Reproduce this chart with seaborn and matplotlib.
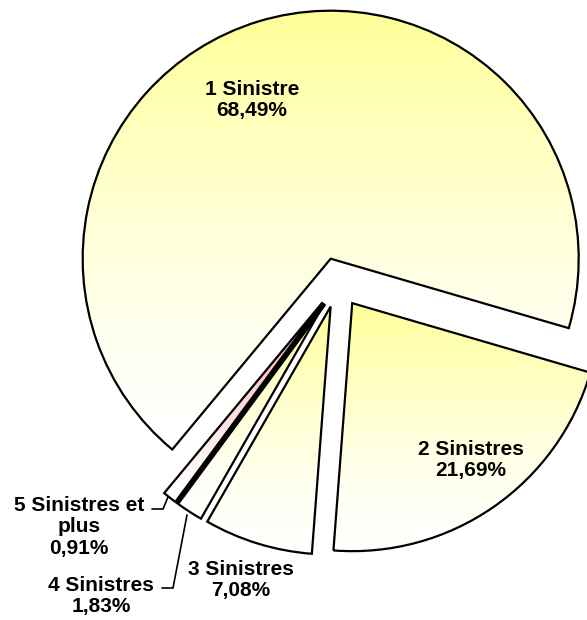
import numpy as np
import matplotlib
matplotlib.use("Agg")
import matplotlib.pyplot as plt
from matplotlib.colors import LinearSegmentedColormap
import seaborn as sns

# ---- data ----
categories = ["1 Sinistre", "2 Sinistres", "3 Sinistres", "4 Sinistres", "5 Sinistres et\nplus"]
shares = [68.49, 21.69, 7.08, 1.83, 0.91]
share_labels = ["68,49%", "21,69%", "7,08%", "1,83%", "0,91%"]

sns.set_theme(style="white")
plt.rcParams['font.family'] = ['Liberation Sans', 'DejaVu Sans']

W, H = 587, 620
fig = plt.figure(figsize=(W / 100, H / 100), dpi=100)
ax = fig.add_axes([0, 0, 1, 1])

center = (338, H - 282.6)
radius = 248
top_colors = ["#FFFF99", "#FFFF99", "#FFFF99", "#FFFF99", "#FF9999"]

wedges, _ = ax.pie(shares, startangle=230.3, counterclock=False,
                   explode=[25] * len(shares), center=center, radius=radius,
                   wedgeprops=dict(facecolor="none", edgecolor="black", linewidth=1.6),
                   frame=True)
ax.set_aspect("auto")
ax.axis("off")

grad = (np.linspace(0, 1, 256) ** 1.4).reshape(-1, 1)
for w, col in zip(wedges, top_colors):
    w.set_zorder(3)
    bb = w.get_path().get_extents()
    cmap = LinearSegmentedColormap.from_list("g", ["#FFFFFF", col])
    im = ax.imshow(grad, cmap=cmap, origin="lower", aspect="auto",
                   extent=(bb.x0, bb.x1, bb.y0, bb.y1), interpolation="bilinear", zorder=2)
    im.set_clip_path(w)

# thick boundary line between slice 4 and slice 5
w4 = wedges[3]
th = np.deg2rad(w4.theta1)
cx, cy = w4.center
ax.plot([cx, cx + w4.r * np.cos(th)], [cy, cy + w4.r * np.sin(th)],
        color="black", lw=3.5, solid_capstyle="butt", zorder=4)

ax.set_xlim(0, W)
ax.set_ylim(0, H)

fs = 15
label_pos = [(252, 100), (471, 460), (241, 580), (101, 596), (79, 527)]
for cat, pct, (px, py) in zip(categories, share_labels, label_pos):
    ax.text(px, H - py, f"{cat}\n{pct}", ha="center", va="center",
            fontsize=fs, fontweight="bold", color="black", linespacing=1.17, zorder=5)

# leader lines
ax.plot([152, 163, 168], [H - 509, H - 509, H - 497], color="black", lw=1.2, zorder=5)
ax.plot([162, 173, 187], [H - 588, H - 588, H - 515], color="black", lw=1.2, zorder=5)

fig.savefig("out.png", dpi=100)
